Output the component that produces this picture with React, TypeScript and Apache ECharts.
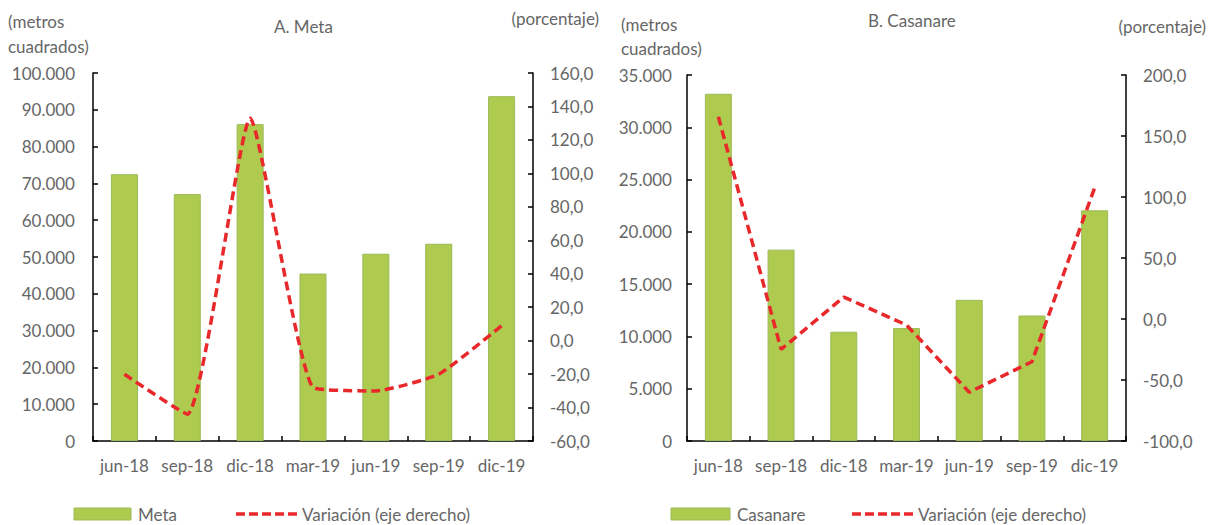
import React, { useEffect, useRef } from "react";
import * as echarts from "echarts";

const categories = ["jun-18", "sep-18", "dic-18", "mar-19", "jun-19", "sep-19", "dic-19"];
const metaArea = [72500, 67100, 86100, 45500, 50900, 53600, 93700];
const metaVar = [-20.1, -44.0, 132.9, -27.9, -30.1, -20.1, 8.9];
const casanareArea = [33200, 18300, 10450, 10800, 13500, 12000, 22060];
const casanareVar = [165.8, -24.9, 18.0, -4.9, -60.0, -35.0, 107.6];

const FONT = "Lato, 'Open Sans', sans-serif";
const TXT = "#666666";
const BAR_FILL = "#AECB4F";
const BAR_BORDER = "#9BBA58";
const RED = "#E8282B";

const thousands = (v: number) => String(Math.round(v)).replace(/\B(?=(\d{3})+(?!\d))/g, ".");
const pct = (v: number) => v.toFixed(1).replace(".", ",");

function legendItems(barX: number, barW: number, barName: string, lineX: number) {
  return [
    { type: "rect", shape: { x: barX, y: 508, width: barW, height: 12 }, style: { fill: BAR_FILL, stroke: BAR_BORDER, lineWidth: 1 } },
    { type: "text", x: barX + barW + 7, y: 514, style: { text: barName, fill: TXT, font: `17px ${FONT}`, verticalAlign: "middle" } },
    { type: "line", shape: { x1: lineX, y1: 514, x2: lineX + 61, y2: 514 }, style: { stroke: RED, lineWidth: 3.5, lineDash: [9, 4] } },
    { type: "text", x: lineX + 66, y: 514, style: { text: "Variación (eje derecho)", fill: TXT, font: `17px ${FONT}`, verticalAlign: "middle" } },
  ];
}

export default function App() {
  const ref = useRef<HTMLDivElement>(null);
  useEffect(() => {
    if (!ref.current) return;
    const chart = echarts.init(ref.current, null, { renderer: "svg" });
    const labelStyle = { color: TXT, fontFamily: FONT, fontSize: 17 };
    const axisLine = { show: true, lineStyle: { color: "#000", width: 1.5 } };
    const axisTick = { show: true, inside: true, length: 5, lineStyle: { color: "#000", width: 1.5 } };
    const xAxisBase = (gridIndex: number) => ({
      type: "category",
      gridIndex,
      data: categories,
      boundaryGap: true,
      axisLine,
      axisTick: { ...axisTick, interval: 0, alignWithLabel: false },
      axisLabel: { ...labelStyle, margin: 16, interval: 0 },
      splitLine: { show: false },
    });
    const option: any = {
      animation: false,
      backgroundColor: "#fff",
      grid: [
        { left: 93, right: 687, top: 73, bottom: 84, containLabel: false },
        { left: 687, right: 94, top: 75, bottom: 84, containLabel: false },
      ],
      xAxis: [xAxisBase(0), xAxisBase(1)],
      yAxis: [
        {
          type: "value", gridIndex: 0, position: "left", min: 0, max: 100000, interval: 10000,
          axisLine, axisTick, splitLine: { show: false },
          axisLabel: { ...labelStyle, margin: 18, formatter: thousands },
        },
        {
          type: "value", gridIndex: 0, position: "right", min: -60, max: 160, interval: 20,
          axisLine, axisTick, splitLine: { show: false },
          axisLabel: { ...labelStyle, margin: 17, formatter: pct },
        },
        {
          type: "value", gridIndex: 1, position: "left", min: 0, max: 35000, interval: 5000,
          axisLine, axisTick, splitLine: { show: false },
          axisLabel: { ...labelStyle, margin: 15, formatter: thousands },
        },
        {
          type: "value", gridIndex: 1, position: "right", min: -100, max: 200, interval: 50,
          axisLine, axisTick, splitLine: { show: false },
          axisLabel: { ...labelStyle, margin: 17, formatter: pct },
        },
      ],
      series: [
        {
          name: "Meta", type: "bar", xAxisIndex: 0, yAxisIndex: 0, data: metaArea, barWidth: "43%",
          itemStyle: { color: BAR_FILL, borderColor: BAR_BORDER, borderWidth: 1 },
        },
        {
          name: "Variación (eje derecho)", type: "line", xAxisIndex: 0, yAxisIndex: 1, data: metaVar,
          symbol: "none", smooth: 0.15, lineStyle: { color: RED, width: 3.5, type: [9, 5] },
          itemStyle: { color: RED }, z: 5,
        },
        {
          name: "Casanare", type: "bar", xAxisIndex: 1, yAxisIndex: 2, data: casanareArea, barWidth: "43%",
          itemStyle: { color: BAR_FILL, borderColor: BAR_BORDER, borderWidth: 1 },
        },
        {
          name: "Variación (eje derecho) ", type: "line", xAxisIndex: 1, yAxisIndex: 3, data: casanareVar,
          symbol: "none", smooth: false, lineStyle: { color: RED, width: 3.5, type: [9, 5] },
          itemStyle: { color: RED }, z: 5,
        },
      ],
      graphic: [
        { type: "text", left: 8, top: 9, style: { text: "(metros\ncuadrados)", fill: TXT, font: `17px ${FONT}`, lineHeight: 25 } },
        { type: "text", left: 274, top: 18, style: { text: "A. Meta", fill: TXT, font: `17px ${FONT}` } },
        { type: "text", right: 1220 - 599, top: 10, style: { text: "(porcentaje)", fill: TXT, font: `17px ${FONT}` } },
        { type: "text", left: 621, top: 12, style: { text: "(metros\ncuadrados)", fill: TXT, font: `17px ${FONT}`, lineHeight: 24 } },
        { type: "text", left: 868, top: 12, style: { text: "B. Casanare", fill: TXT, font: `17px ${FONT}` } },
        { type: "text", right: 14, top: 18, style: { text: "(porcentaje)", fill: TXT, font: `17px ${FONT}` } },
        ...legendItems(74, 57, "Meta", 236),
        ...legendItems(671, 59, "Casanare", 852),
      ],
    };
    chart.setOption(option);
    return () => chart.dispose();
  }, []);
  return (
    <div
      ref={ref}
      style={{ position: "absolute", left: 0, top: 0, width: 1220, height: 525, background: "#fff" }}
    />
  );
}
